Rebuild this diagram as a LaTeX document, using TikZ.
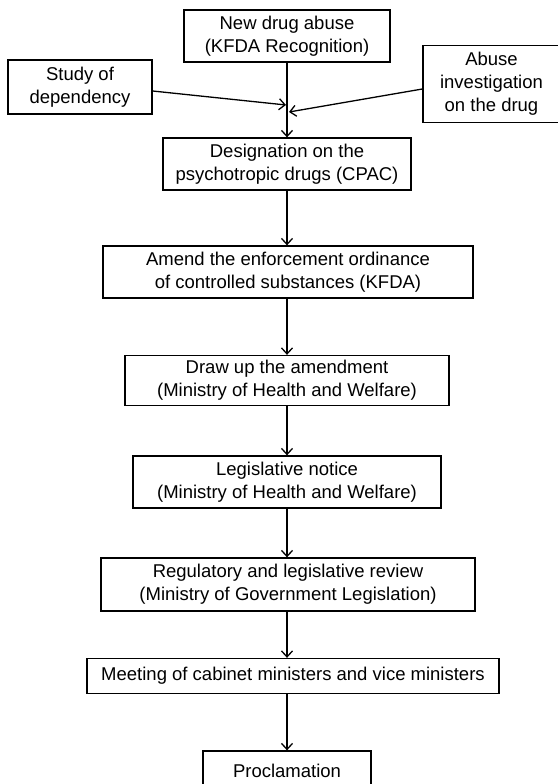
\documentclass[tikz,border=0pt]{standalone}
\usepackage{fontspec}
\setmainfont{Liberation Sans}
\usetikzlibrary{arrows.meta}
\begin{document}
\begin{tikzpicture}[x=1pt,y=-1pt,
  box/.style={draw, line width=1.3pt, inner sep=0pt, align=center, font=\fontsize{18.5}{23}\selectfont},
  arr/.style={line width=1.3pt, -{Straight Barb[length=6pt,width=11pt,line width=1.3pt]}}]
\useasboundingbox (0,0) rectangle (557,784);
\node[box, minimum width=206pt, minimum height=52pt] (b1) at (287,36) {New drug abuse\\(KFDA Recognition)};
\node[box, minimum width=144pt, minimum height=54pt] (b2) at (80,87) {Study of\\dependency};
\node[box, minimum width=137pt, minimum height=77pt] (b3) at (491.5,84) {Abuse\\investigation\\on the drug};
\node[box, minimum width=248pt, minimum height=52pt] (b4) at (287,164) {Designation on the\\psychotropic drugs (CPAC)};
\node[box, minimum width=370pt, minimum height=52pt] (b5) at (288,272) {Amend the enforcement ordinance\\of controlled substances (KFDA)};
\node[box, minimum width=324pt, minimum height=50pt] (b6) at (287,380.5) {Draw up the amendment\\(Ministry of Health and Welfare)};
\node[box, minimum width=308pt, minimum height=52pt] (b7) at (287,482) {Legislative notice\\(Ministry of Health and Welfare)};
\node[box, minimum width=374pt, minimum height=53pt] (b8) at (288,584.5) {Regulatory and legislative review\\(Ministry of Government Legislation)};
\node[box, minimum width=412pt, minimum height=35pt] (b9) at (293,676) {Meeting of cabinet ministers and vice ministers};
\node[box, minimum width=168pt, minimum height=40pt] (b10) at (287,771) {Proclamation};
\coordinate (m1) at (286,105);
\coordinate (m2) at (289,112);
\draw[arr] (b1) -- (b4);
\draw[arr] ([yshift=-4pt]b2.east) -- (m1);
\draw[arr] ([yshift=-5pt]b3.west) -- (m2);
\draw[arr] (b4) -- (b5.north -| b4);
\draw[arr] (b5.south -| b4) -- (b6);
\draw[arr] (b6) -- (b7);
\draw[arr] (b7) -- (b8.north -| b7);
\draw[arr] (b8.south -| b7) -- (b9.north -| b7);
\draw[arr] (b9.south -| b10) -- (b10);
\end{tikzpicture}
\end{document}
